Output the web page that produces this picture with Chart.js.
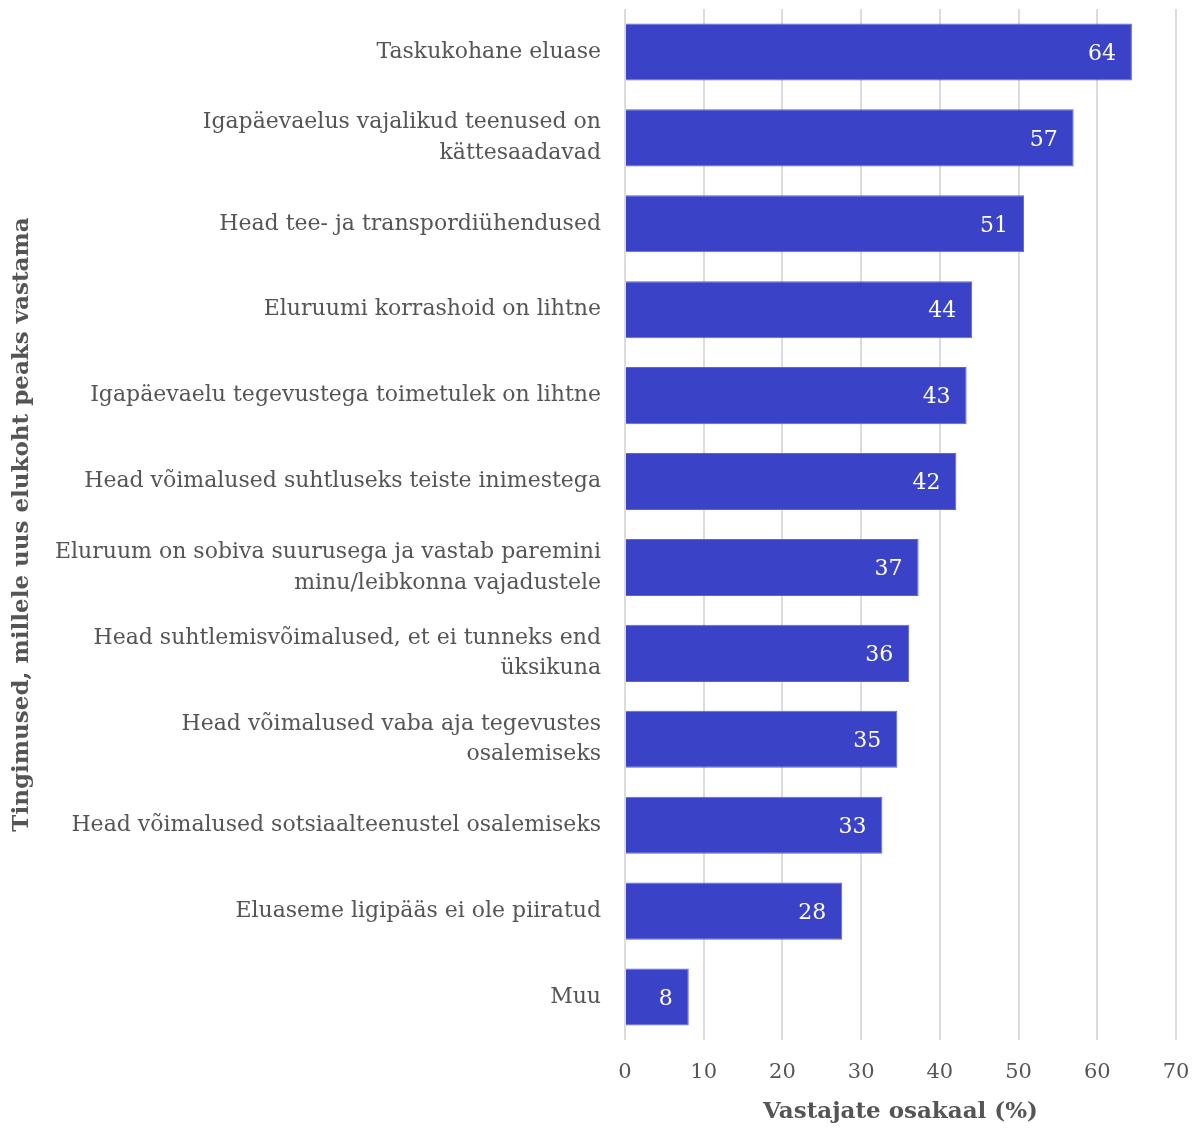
<!DOCTYPE html>
<html>
<head>
<meta charset="utf-8">
<script src="https://cdn.jsdelivr.net/npm/chart.js@4"></script>
<style>
html,body{margin:0;padding:0;background:#fff;}
canvas{display:block;}
</style>
</head>
<body>
<canvas id="c" width="1196" height="1128"></canvas>
<script>
const categories = [
  "Taskukohane eluase",
  ["Igapäevaelus vajalikud teenused on", "kättesaadavad"],
  "Head tee- ja transpordiühendused",
  "Eluruumi korrashoid on lihtne",
  "Igapäevaelu tegevustega toimetulek on lihtne",
  "Head võimalused suhtluseks teiste inimestega",
  ["Eluruum on sobiva suurusega ja vastab paremini", "minu/leibkonna vajadustele"],
  ["Head suhtlemisvõimalused, et ei tunneks end", "üksikuna"],
  ["Head võimalused vaba aja tegevustes", "osalemiseks"],
  "Head võimalused sotsiaalteenustel osalemiseks",
  "Eluaseme ligipääs ei ole piiratud",
  "Muu"
];
const values = [64.4, 57.0, 50.7, 44.1, 43.4, 42.1, 37.3, 36.1, 34.6, 32.7, 27.6, 8.1];
const xTicks = [0, 10, 20, 30, 40, 50, 60, 70];
const xTitle = "Vastajate osakaal (%)";
const yTitle = "Tingimused, millele uus elukoht peaks vastama";

const FONT = "'Roboto Slab', 'DejaVu Serif', serif";
const TXT = "#555555";

const valueLabels = {
  id: 'valueLabels',
  afterDatasetsDraw(chart) {
    const ctx = chart.ctx;
    const meta = chart.getDatasetMeta(0);
    ctx.save();
    ctx.fillStyle = '#ffffff';
    ctx.font = "22px " + FONT;
    ctx.textAlign = 'right';
    ctx.textBaseline = 'middle';
    meta.data.forEach((bar, i) => {
      ctx.fillText(String(Math.round(values[i])), bar.x - 16, bar.y + 2);
    });
    ctx.restore();
  }
};

new Chart(document.getElementById('c'), {
  type: 'bar',
  data: {
    labels: categories,
    datasets: [{
      data: values,
      backgroundColor: '#3a43c8',
      borderColor: '#5c64d4',
      borderWidth: 1,
      categoryPercentage: 1,
      barPercentage: 0.665
    }]
  },
  options: {
    indexAxis: 'y',
    responsive: false,
    animation: false,
    layout: { padding: { top: 9, right: 20, bottom: 0, left: 0 } },
    plugins: { legend: { display: false }, tooltip: { enabled: false } },
    scales: {
      x: {
        min: 0, max: 70,
        afterBuildTicks(axis) { axis.ticks = xTicks.map(v => ({ value: v })); },
        afterFit(axis) { axis.paddingLeft = 0; axis.paddingRight = 0; axis.height = 88; },
        grid: { color: '#dcdcdc', lineWidth: 2, drawTicks: false },
        border: { display: false },
        ticks: { color: TXT, font: { family: FONT, size: 21, lineHeight: 1.2 }, padding: 20 },
        title: { display: true, text: xTitle, color: TXT, font: { family: FONT, size: 23, weight: 'bold', lineHeight: 1.2 }, padding: { top: 11, bottom: 2 } }
      },
      y: {
        grid: { display: false, drawTicks: false },
        border: { display: false },
        afterFit(axis) { axis.width = 625; axis.paddingTop = 0; axis.paddingBottom = 0; },
        ticks: { color: TXT, font: { family: FONT, size: 22, lineHeight: 1.4 }, padding: 24 },
        title: { display: true, text: yTitle, color: TXT, font: { family: FONT, size: 23, weight: 'bold', lineHeight: 1.2 }, padding: { top: 8, bottom: 0 } }
      }
    }
  },
  plugins: [valueLabels]
});
</script>
</body>
</html>
